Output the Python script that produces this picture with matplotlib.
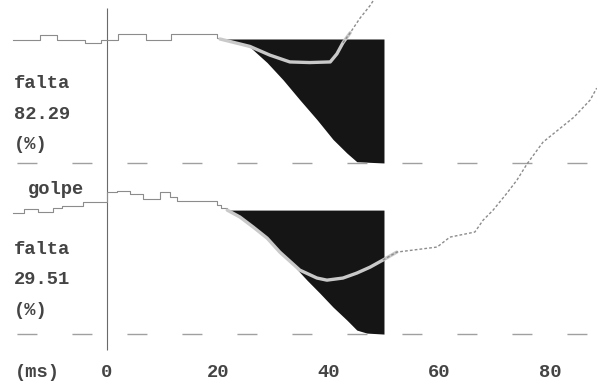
import numpy as np
import matplotlib.pyplot as plt

plt.rcParams['lines.scale_dashes'] = False

# time axis (ms) and vertical scale (% of full deflection)
x_ticks = [0, 20, 40, 60, 80]
tick_labels = ['0', '20', '40', '60', '80']
lower_offset = -138   # the second trace sits below the first
depth = -100

# top channel: signal before the hit
top_pre_ms = [-17, -12, -9, -4, -1, 2, 7, 11.5, 19.9, 20.4]
top_pre_val = [-1, 3, -1, -3, -1, 4, -1, 4, 1, 0]

# top channel: filled "missing" area
top_fill_ms = [20.4, 25.8, 28.9, 31.8, 34.8, 37.9, 40.8, 43.3, 45.1, 50.0]
top_fill_val = [0, -6.5, -19, -33, -49, -65, -81, -92, -99, -100]

# top channel: measured trace after the hit
top_hit_ms = [20.4, 25.8, 29.4, 33.0, 36.6, 40.3, 41.5, 42.6, 43.9, 45.7, 47.5, 48.5, 49.5]
top_hit_val = [0, -6, -13, -18.5, -19, -18.5, -12, -3, 5, 17, 27, 34, 42]

# lower channel: signal before the hit
low_pre_ms = [-17, -15, -12.5, -9.7, -8.1, -4.3, 0, 1.8, 4.2, 6.5, 9.6, 11.4, 12.6, 19.9, 20.6, 21.7]
low_pre_val = [-2.4, 0.8, -1.6, 1.6, 3.2, 6.5, 14.5, 15.3, 12.9, 8.9, 14.5, 10.5, 7.3, 4, 1.6, 0]

# lower channel: filled area
low_fill_ms = [21.7, 24.0, 26.4, 28.9, 31.2, 33.6, 36.1, 38.4, 40.8, 43.3, 45.1, 46.9, 50.0]
low_fill_val = [0, -5.6, -13.7, -22.6, -33.9, -44.4, -56.5, -66.9, -78.2, -88.7, -96.8, -99.2, -100]

# lower channel: measured trace after the hit
low_hit_ms = [21.7, 24, 26.4, 28.9, 31.2, 34.8, 37.9, 39.7, 42.6, 45.1, 47.5, 49.8,
              52.3, 59.6, 61.9, 66.4, 67.9, 69.7, 72.2, 74, 75.8, 78.7, 84.3, 87.2, 88.4]
low_hit_val = [0, -5.6, -13.7, -22.6, -33.9, -48.4, -54.8, -56.5, -54.8, -50.8, -46, -40.3,
               -33.9, -29.8, -21.8, -17.7, -8.1, 0, 13.7, 24.2, 37.1, 54.8, 75, 88.7, 98.4]

fig = plt.figure(figsize=(5.97, 3.89), dpi=100)
ax = fig.add_axes([0, 0, 1, 1])
ax.set_xlim(-19.31, 88.45)
ax.set_ylim(-282.3, 31.45)
ax.axis('off')

ink = '#151515'
trace_gray = '#8c8c8c'
light = '#c9c9c9'
font = dict(family='Liberation Mono', weight='bold', size=13.5, color='#444444')

# zero line of time axis
ax.vlines(0, -251, 25, color='#6a6a6a', lw=0.8)

# dashed 100% levels
for off in [0, lower_offset]:
    ax.axhline(off + depth, color='#a0a0a0', lw=1.0, ls=(27.4, (14.4, 25.2)))

# filled areas
ax.fill_between(top_fill_ms, top_fill_val, 0, color=ink, lw=0)
ax.fill_between(low_fill_ms, np.array(low_fill_val) + lower_offset, lower_offset, color=ink, lw=0)

# pre-hit traces
ax.plot(top_pre_ms, top_pre_val, drawstyle='steps-post', color=trace_gray, lw=0.8)
ax.plot(low_pre_ms, np.array(low_pre_val) + lower_offset, drawstyle='steps-post', color=trace_gray, lw=0.8)

# top trace after hit
t = np.array(top_hit_ms)
v = np.array(top_hit_val)
k = int((v <= 0).sum())
ax.plot(t[:k + 1], v[:k + 1], color=light, lw=2.4, solid_capstyle='round')
ax.plot(t[k - 1:], v[k - 1:], color=trace_gray, lw=1.0, ls=(0, (2, 1.5)))

# lower trace after hit
t = np.array(low_hit_ms)
v = np.array(low_hit_val) + lower_offset
k = int((t <= 50).sum())
ax.plot(t[:k + 1], v[:k + 1], color=light, lw=2.4, solid_capstyle='round')
ax.plot(t[k - 1:], v[k - 1:], color=trace_gray, lw=1.0, ls=(0, (2, 1.5)))

# labels
ax.text(-16.8, -36.3, 'falta', va='center', ha='left', **font)
ax.text(-16.8, -60.5, '82.29', va='center', ha='left', **font)
ax.text(-16.8, -84.7, '(%)', va='center', ha='left', **font)
ax.text(-14.3, -121.5, 'golpe', va='center', ha='left', **font)
ax.text(-16.8, -170, 'falta', va='center', ha='left', **font)
ax.text(-16.8, -194, '29.51', va='center', ha='left', **font)
ax.text(-16.8, -219, '(%)', va='center', ha='left', **font)
ax.text(-16.6, -269, '(ms)', va='center', ha='left', **font)
for xt, lab in zip(x_ticks, tick_labels):
    ax.text(xt, -269, lab, va='center', ha='center', **font)

fig.savefig('out.png', dpi=100)
